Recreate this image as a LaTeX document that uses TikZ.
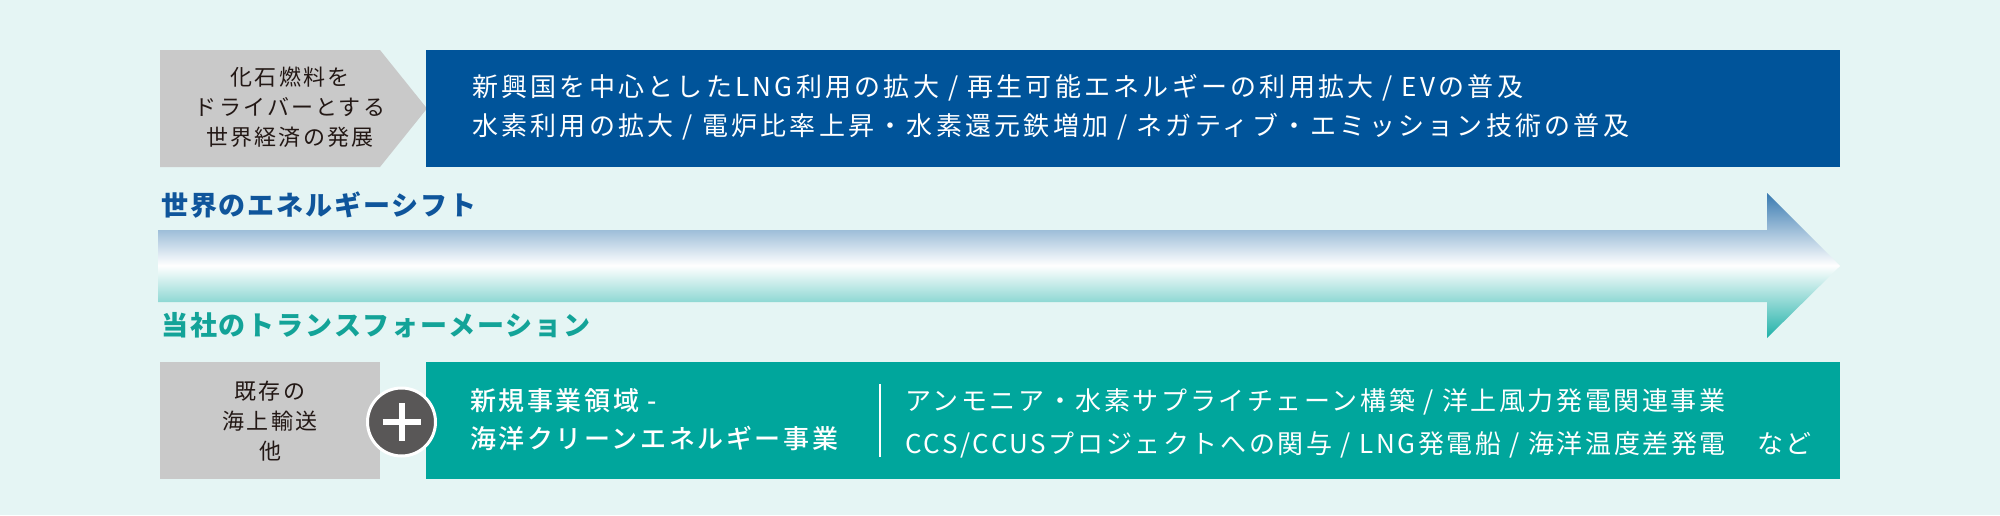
\documentclass[tikz,border=0pt]{standalone}
\usepackage{fontspec}
\setmainfont{Noto Sans CJK JP}
\newfontfamily\jpwide{Noto Sans CJK JP}[LetterSpace=10]
\newfontfamily\jpwider{Noto Sans CJK JP}[LetterSpace=12.5]
\newfontfamily\jphead{Noto Sans CJK JP}[LetterSpace=7]
\newfontfamily\jpmedium{Noto Sans CJK JP Medium}[LetterSpace=10]

\definecolor{bgmint}{HTML}{E5F5F4}
\definecolor{boxblue}{HTML}{00549A}
\definecolor{boxteal}{HTML}{00A69C}
\definecolor{boxgray}{HTML}{C9C9C9}
\definecolor{inkgray}{HTML}{231815}
\definecolor{plusgray}{HTML}{595757}
\definecolor{shiftblue}{HTML}{0F559B}
\definecolor{shiftteal}{HTML}{13A398}

\begin{document}
\begin{tikzpicture}[x=1pt, y=-1pt,
    graytext/.style={inner sep=0pt, align=center, text=inkgray,
        font=\jpwide\fontsize{22}{30}\selectfont},
    boxtext/.style={inner sep=0pt, anchor=west, align=left, text=white,
        font=\jpwide\fontsize{26}{39}\selectfont},
    headtext/.style={inner sep=0pt, anchor=west,
        font=\jphead\bfseries\fontsize{27}{30}\selectfont}]
    % Set the page size and background
    \fill[bgmint] (0,0) rectangle (2000,515);
    \useasboundingbox (0,0) rectangle (2000,515);

    % Draw the upper row: gray pentagon and blue box
    \fill[boxgray] (160,50) -- (380,50) -- (427,108.5) -- (380,167) -- (160,167) -- cycle;
    \node[graytext] (fossil) at (290,107) {化石燃料を\\ドライバーとする\\世界経済の発展};
    \fill[boxblue] (426,50) rectangle (1840,167);
    \node[boxtext, font=\jpwider\fontsize{26}{39}\selectfont] (world) at (472,107.5) {新興国を中心としたLNG利用の拡大 / 再生可能エネルギーの利用拡大 / EVの普及\\水素利用の拡大 / 電炉比率上昇・水素還元鉄増加 / ネガティブ・エミッション技術の普及};

    % Draw the big shaded arrow
    \shade[top color=boxblue!78!white, bottom color=boxteal!88!white, middle color=white]
        (158,230) -- (1767,230) -- (1767,193) -- (1840,266) -- (1767,338)
        -- (1767,302) -- (158,302) -- cycle;
    \node[headtext, text=shiftblue] (shift) at (161,205) {世界のエネルギーシフト};
    \node[headtext, text=shiftteal] (transform) at (161,325) {当社のトランスフォーメーション};

    % Draw the lower row: gray box, plus sign and teal box
    \fill[boxgray] (160,362) rectangle (380,479);
    \node[graytext] (shipping) at (270,421) {既存の\\海上輸送\\他};
    \fill[boxteal] (426,362) rectangle (1840,479);
    \node[circle, fill=plusgray, draw=white, line width=3pt, minimum size=68pt] (plus) at (401.5,422) {};
    \draw[white, line width=6pt] (plus.center) ++(-19,0) -- ++(38,0);
    \draw[white, line width=6pt] (plus.center) ++(0,-19) -- ++(0,38);
    \node[boxtext, font=\jpmedium\fontsize{26}{38}\selectfont] (newbiz) at (470,420) {新規事業領域 -\\海洋クリーンエネルギー事業};
    \draw[white, line width=1.5pt] (880,384) -- (880,457);
    \node[boxtext, font=\jpwide\fontsize{26}{43}\selectfont] (projects) at (905,423.5) {アンモニア・水素サプライチェーン構築 / 洋上風力発電関連事業\\CCS/CCUSプロジェクトへの関与 / LNG発電船 / 海洋温度差発電　など};
\end{tikzpicture}
\end{document}
